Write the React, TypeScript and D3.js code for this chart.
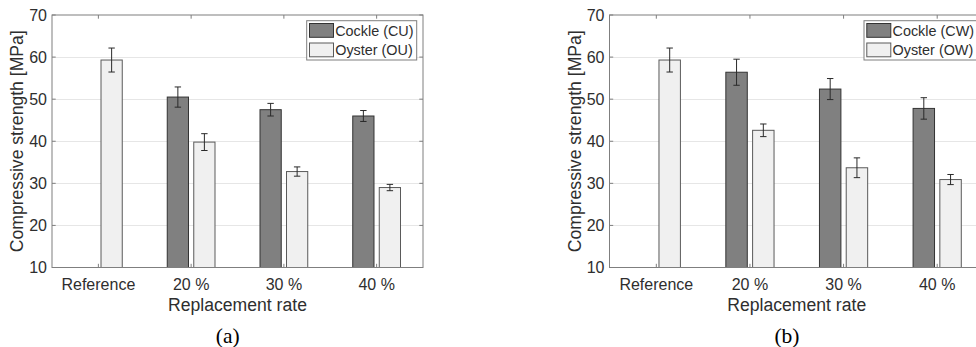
import React from "react";
import * as d3 from "d3";

const categories = ["Reference", "20 %", "30 %", "40 %"];
const yTicks = [10, 20, 30, 40, 50, 60, 70];

const cockleU = [NaN, 50.5, 47.5, 46.0];
const cockleUErr = [NaN, 2.4, 1.5, 1.3];
const oysterU = [59.3, 39.8, 32.8, 29.0];
const oysterUErr = [2.85, 2.0, 1.1, 0.75];

const cockleW = [NaN, 56.4, 52.4, 47.8];
const cockleWErr = [NaN, 3.1, 2.5, 2.55];
const oysterW = [59.3, 42.6, 33.7, 30.9];
const oysterWErr = [2.85, 1.5, 2.35, 1.2];

const legendU = ["Cockle (CU)", "Oyster (OU)"];
const legendW = ["Cockle (CW)", "Oyster (OW)"];
const panelLabels = ["(a)", "(b)"];

const FONT = "'Liberation Sans', Arial, Helvetica, sans-serif";
const TEXT = "#2e2e2e";
const AXIS = "#7f7f7f";
const GRID = "#e6e6e6";
const DARK = "#808080";
const LIGHT = "#f0f0f0";

type PanelProps = {
  left: number;
  right: number;
  cockle: number[];
  cockleErr: number[];
  oyster: number[];
  oysterErr: number[];
  legend: string[];
  legendLeft: number;
  legendWidth: number;
  label: string;
};

function Panel(p: PanelProps) {
  const top = 15;
  const bottom = 267.5;
  const x = d3.scaleLinear().domain([0.5, 4.5]).range([p.left, p.right]);
  const y = d3.scaleLinear().domain([10, 70]).range([bottom, top]);
  const off = 0.1429;
  const bw = 0.229;
  const bwPx = x(bw) - x(0);
  const cap = 3.2;
  const tick = 3.7;
  const series = [
    { vals: p.cockle, errs: p.cockleErr, fill: DARK, stroke: "#333333", dx: -off },
    { vals: p.oyster, errs: p.oysterErr, fill: LIGHT, stroke: "#5a5a5a", dx: off },
  ];
  const cx = (p.left + p.right) / 2;
  return (
    <g>
      {yTicks.filter((t) => t > 10 && t < 70).map((t) => (
        <line key={"g" + t} x1={p.left} x2={p.right} y1={Math.round(y(t)) + 0.5} y2={Math.round(y(t)) + 0.5} stroke={GRID} strokeWidth={1} />
      ))}
      {series.map((s, si) =>
        s.vals.map((v, i) => {
          if (isNaN(v)) return null;
          const xc = x(i + 1 + s.dx);
          return (
            <rect key={"b" + si + i} x={xc - bwPx / 2} y={y(v)} width={bwPx} height={bottom - y(v)} fill={s.fill} stroke={s.stroke} strokeWidth={1} />
          );
        })
      )}
      {series.map((s, si) =>
        s.vals.map((v, i) => {
          if (isNaN(v)) return null;
          const xc = x(i + 1 + s.dx);
          const e = s.errs[i];
          return (
            <g key={"e" + si + i} stroke="#2a2a2a" strokeWidth={1}>
              <line x1={xc} x2={xc} y1={y(v + e)} y2={y(v - e)} />
              <line x1={xc - cap} x2={xc + cap} y1={y(v + e)} y2={y(v + e)} />
              <line x1={xc - cap} x2={xc + cap} y1={y(v - e)} y2={y(v - e)} />
            </g>
          );
        })
      )}
      <rect x={p.left} y={top} width={p.right - p.left} height={bottom - top} fill="none" stroke={AXIS} strokeWidth={1} />
      {categories.map((c, i) => (
        <g key={"xt" + i} stroke={AXIS}>
          <line x1={x(i + 1)} x2={x(i + 1)} y1={bottom} y2={bottom - tick} />
          <line x1={x(i + 1)} x2={x(i + 1)} y1={top} y2={top + tick} />
        </g>
      ))}
      {yTicks.map((t) => (
        <g key={"yt" + t} stroke={AXIS}>
          <line x1={p.left} x2={p.left + tick} y1={y(t)} y2={y(t)} />
          <line x1={p.right} x2={p.right - tick} y1={y(t)} y2={y(t)} />
        </g>
      ))}
      {categories.map((c, i) => (
        <text key={"xl" + i} x={x(i + 1)} y={bottom + 22.5} textAnchor="middle" fontSize={16} fill={TEXT} fontFamily={FONT}>
          {c}
        </text>
      ))}
      {yTicks.map((t) => (
        <text key={"yl" + t} x={p.left - 5} y={y(t)} dy="0.35em" textAnchor="end" fontSize={16} fill={TEXT} fontFamily={FONT}>
          {t}
        </text>
      ))}
      <text x={cx} y={bottom + 43.5} textAnchor="middle" fontSize={17.6} fill={TEXT} fontFamily={FONT}>
        Replacement rate
      </text>
      <text transform={`translate(${p.left - 29},${(top + bottom) / 2}) rotate(-90)`} textAnchor="middle" fontSize={17.6} fill={TEXT} fontFamily={FONT}>
        Compressive strength [MPa]
      </text>
      <g>
        <rect x={p.legendLeft} y={20.7} width={p.legendWidth} height={39.3} fill="#ffffff" stroke={AXIS} strokeWidth={1} />
        {p.legend.map((l, i) => (
          <g key={"lg" + i}>
            <rect x={p.legendLeft + 2.8} y={23.5 + i * 19.5} width={24} height={13.8} fill={i === 0 ? DARK : LIGHT} stroke={i === 0 ? "#333333" : "#5a5a5a"} strokeWidth={1} />
            <text x={p.legendLeft + 28.5} y={30.6 + i * 19.5} dy="0.36em" fontSize={14.4} fill={TEXT} fontFamily={FONT}>
              {l}
            </text>
          </g>
        ))}
      </g>
      <text x={cx - 9.8} y={343} textAnchor="middle" fontSize={21.5} fill="#000" fontFamily="'Liberation Serif', 'Times New Roman', serif">
        {p.label}
      </text>
    </g>
  );
}

export default function App() {
  return (
    <svg width={976} height={347} style={{ position: "absolute", left: 0, top: 0, background: "#fff" }}>
      <rect x={0} y={0} width={976} height={347} fill="#fff" />
      <Panel left={52} right={423} cockle={cockleU} cockleErr={cockleUErr} oyster={oysterU} oysterErr={oysterUErr} legend={legendU} legendLeft={306.7} legendWidth={110} label={panelLabels[0]} />
      <Panel left={609.5} right={984} cockle={cockleW} cockleErr={cockleWErr} oyster={oysterW} oysterErr={oysterWErr} legend={legendW} legendLeft={864} legendWidth={114} label={panelLabels[1]} />
    </svg>
  );
}
